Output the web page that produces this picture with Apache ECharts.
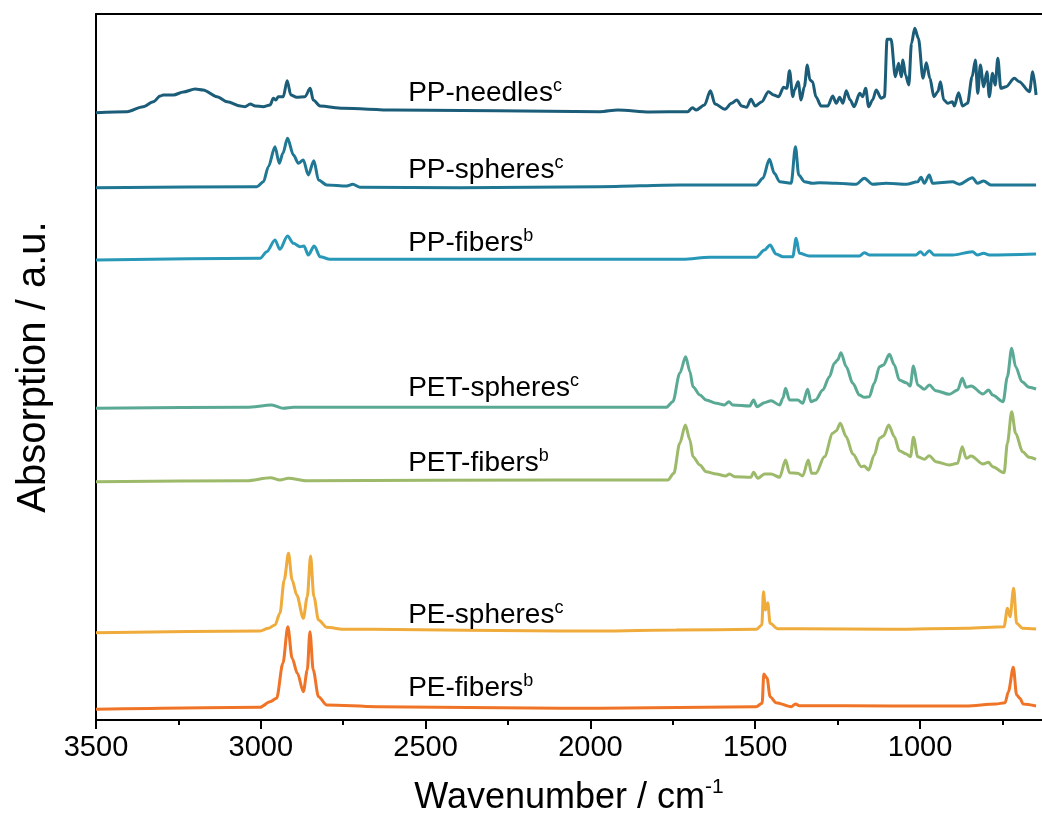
<!DOCTYPE html>
<html>
<head>
<meta charset="utf-8">
<script src="https://cdn.jsdelivr.net/npm/echarts@6/dist/echarts.min.js"></script>
<style>html,body{margin:0;padding:0;background:#fff;}#chart{width:1042px;height:833px;}</style>
</head>
<body>
<div id="chart"></div>
<script>
// Series names and label text
const seriesNames = ['PP-needles', 'PP-spheres', 'PP-fibers', 'PET-spheres', 'PET-fibers', 'PE-spheres', 'PE-fibers'];
const seriesSup = ['c', 'c', 'b', 'c', 'b', 'c', 'b'];
const seriesColors = ['#1b5d78', '#1f7794', '#2898b8', '#5aa994', '#9db96a', '#efab3b', '#f07427'];
// label anchor heights (a.u., offset scale)
const labelWn = 2553;
const labelLevels = [627, 550, 477, 332, 257, 105, 32];

const majorTicks = [3500, 3000, 2500, 2000, 1500, 1000];
const minorTicks = [3250, 2750, 2250, 1750, 1250, 750];

// [wavenumber cm-1, offset absorption a.u.]
const ppNeedles = [[3500,607.3],[3406,608.3],[3357,613.3],[3326,618.3],[3305,624],[3296,625],[3265,625],[3235,628],[3199,631],[3175,630],[3133,623.3],[3102,618.3],[3062,614],[3048,613.3],[3032,616],[3017,614],[2993,613.3],[2972,615],[2962,621.7],[2954,620],[2947,623.3],[2932,623.3],[2920,639.3],[2909,625],[2891,622.7],[2866,623.3],[2850,631.7],[2841,620],[2820,614],[2750,611.7],[2598,610],[1971,608.3],[1917,610],[1820,608],[1705,608.3],[1691,612.3],[1679,610],[1654,615],[1636,629.3],[1622,616],[1592,610.7],[1572,616.7],[1556,620],[1541,614],[1526,612.7],[1513,620.7],[1500,614],[1480,618.3],[1460,628.3],[1444,625],[1429,623.3],[1414,632.7],[1404,631.7],[1396,649.3],[1386,623.3],[1381,630],[1370,638.3],[1361,620],[1351,633.3],[1342,655],[1334,640],[1326,638.3],[1316,623.3],[1300,614],[1280,614],[1265,624],[1254,616.7],[1244,622.7],[1234,616.7],[1224,629.3],[1212,620],[1200,613.3],[1183,626.7],[1174,623.3],[1165,631.7],[1156,613.3],[1144,620],[1133,630],[1118,621.7],[1108,623.3],[1100,680.7],[1088,680.7],[1075,643.3],[1065,656.7],[1057,643.3],[1052,660],[1044,645],[1034,635],[1026,676.7],[1016,691.7],[1005,681.7],[991,641.7],[981,657.3],[970,641.7],[958,623.3],[946,628.3],[938,638.3],[928,620],[916,616.7],[902,618.3],[896,614],[883,627.3],[871,614],[856,616.7],[842,643.3],[832,660],[825,626.7],[817,655],[807,633.3],[797,648.3],[790,623.3],[780,646.7],[772,635],[764,661.7],[755,631.7],[739,633.3],[714,641.7],[699,638.3],[668,628.3],[658,648.3],[648,625]];

const ppSpheres = [[3500,532.3],[3012,533.3],[2992,538.3],[2977,553.3],[2957,573.3],[2944,556.7],[2933,566.7],[2919,581.7],[2901,565],[2886,556.7],[2871,560],[2856,545],[2839,559.3],[2825,540],[2800,535],[2739,534],[2721,535.7],[2699,532.7],[2396,532.3],[1971,533.3],[1729,535],[1497,535],[1477,541.7],[1457,560.7],[1442,546.7],[1426,538.3],[1391,536.7],[1378,573.3],[1368,545],[1351,538.3],[1326,536.7],[1305,537.3],[1254,536.7],[1194,535.7],[1169,541.7],[1144,535.7],[1103,536.7],[1042,535.7],[1007,538.3],[997,542.7],[987,536.7],[972,545],[962,536.7],[901,538.3],[881,535.7],[841,542.3],[826,536.7],[807,539],[785,535],[648,535]];

const ppFibers = [[3500,460],[3002,461.7],[2982,468.3],[2957,480],[2942,470.7],[2919,484],[2901,476.7],[2881,473.3],[2869,474],[2856,465],[2838,474],[2820,463.3],[2790,460.7],[2396,460.7],[1971,460.7],[1719,460.7],[1638,462.7],[1497,462.7],[1472,470],[1455,475],[1437,466],[1416,463.3],[1386,463.3],[1376,481.7],[1366,466.7],[1336,464],[1184,464],[1169,467.3],[1154,465],[1012,465],[999,468.3],[987,465],[972,469.3],[957,465],[901,465],[841,468.3],[826,465],[807,466.7],[790,465],[648,466]];

const petSpheres = [[3500,311.7],[3043,312.7],[2967,315],[2932,311.7],[2901,312.7],[2093,312.7],[1971,312.7],[1770,312.7],[1750,318.3],[1729,346.7],[1711,363.3],[1698,348.3],[1689,333.3],[1668,325],[1649,320],[1618,316.7],[1593,315],[1580,318.3],[1568,315],[1517,314],[1505,320],[1495,313.3],[1472,317.3],[1452,319.3],[1426,315],[1416,321.7],[1408,331.7],[1396,320],[1371,320],[1356,316.7],[1341,330.7],[1331,318.3],[1317,320],[1295,330],[1275,343.3],[1260,356.7],[1250,360],[1240,367.3],[1224,353.3],[1204,336.7],[1184,325],[1169,322.7],[1154,323.3],[1139,336.7],[1123,353.3],[1111,355],[1093,365.7],[1078,355],[1063,340],[1042,337.3],[1030,334],[1020,354],[1007,335],[987,330.7],[972,335],[952,329.3],[911,325.7],[886,330],[872,341.7],[860,332.7],[845,334],[809,326],[792,330],[780,325],[748,318.3],[735,343.3],[722,371.7],[710,353.3],[691,338.3],[669,332.7],[648,331]];

const petFibers = [[3500,238.3],[3043,239.3],[2970,242.3],[2942,240],[2916,241.7],[2861,239.3],[2093,240],[1971,240],[1765,240],[1747,246.7],[1729,276.7],[1712,295],[1698,280],[1689,263.3],[1668,255],[1649,248.3],[1618,246],[1590,244],[1578,246],[1562,243.3],[1513,242.7],[1505,247.7],[1492,241.7],[1472,246],[1452,246],[1426,242.7],[1408,260],[1396,247.3],[1371,246.7],[1356,244],[1339,260],[1329,246.7],[1316,246.7],[1290,263.3],[1265,286.7],[1254,289.3],[1242,296.7],[1224,283.3],[1204,266],[1178,253.3],[1169,254],[1156,250],[1139,265],[1123,281.7],[1111,284],[1095,295],[1078,283.3],[1063,269.3],[1042,266],[1029,263.3],[1020,282.7],[1007,263.3],[987,260.7],[972,264.3],[952,258.3],[911,255],[886,256.7],[872,273.3],[860,261.7],[845,264],[809,256],[792,257.7],[780,253.3],[745,247.3],[735,276.7],[722,308.3],[710,286.7],[689,268.3],[669,262.7],[648,260.7]];

const peSpheres = [[3500,87.3],[3002,89],[2977,91.7],[2957,95],[2942,106.7],[2929,140],[2916,166.7],[2905,140],[2891,125],[2871,101.7],[2859,123.3],[2849,164],[2839,123.3],[2825,100],[2800,92.7],[2750,90.7],[2659,90.7],[2093,89],[1971,89],[1740,90],[1497,90.7],[1480,95],[1475,128.3],[1469,110],[1462,117.3],[1455,96.7],[1432,91.3],[1366,91.3],[1083,90.7],[860,91.7],[745,93.3],[735,111.7],[727,103.3],[716,131.7],[707,96.7],[689,91.7],[648,91]];

const peFibers = [[3500,10.7],[3002,12.7],[2972,18.3],[2952,21.7],[2933,56.7],[2918,93.3],[2905,61.7],[2889,46.7],[2871,28.3],[2859,50],[2851,88.3],[2841,50],[2825,23.3],[2800,15],[2648,13.3],[2093,11.7],[1971,11.7],[1497,13.3],[1479,16.7],[1474,46],[1464,41.7],[1455,23.3],[1437,17.3],[1391,13.3],[1378,16],[1366,14.3],[1083,14],[860,14],[770,16],[742,17.3],[732,28.3],[717,52.7],[707,25],[697,21.7],[687,16],[648,14]];

const allData = [ppNeedles, ppSpheres, ppFibers, petSpheres, petFibers, peSpheres, peFibers];

const FONT = 'Liberation Sans, Arial, sans-serif';
const X_MIN = 630, X_MAX = 3500;
const axisLineStyle = { color: '#000', width: 2 };

const chart = echarts.init(document.getElementById('chart'), null, { renderer: 'canvas' });

const series = allData.map((d, i) => ({
  name: seriesNames[i],
  type: 'line',
  xAxisIndex: 0,
  yAxisIndex: 0,
  data: d,
  showSymbol: false,
  smooth: 0.3,
  smoothMonotone: 'x',
  lineStyle: { color: seriesColors[i], width: 3 },
  itemStyle: { color: seriesColors[i] },
  z: 3,
  markPoint: {
    symbol: 'circle',
    symbolSize: 0,
    silent: true,
    data: [{
      coord: [labelWn, labelLevels[i]],
      label: {
        show: true,
        position: 'right',
        distance: 0,
        formatter: '{m|' + seriesNames[i] + '}{s|' + seriesSup[i] + '}',
        rich: {
          m: { fontSize: 28, fontFamily: FONT, color: '#000', lineHeight: 32 },
          s: { fontSize: 18, fontFamily: FONT, color: '#000', verticalAlign: 'top', lineHeight: 18 }
        }
      }
    }]
  }
}));

chart.setOption({
  animation: false,
  backgroundColor: '#fff',
  grid: { left: 96, right: 0, top: 14, bottom: 113, containLabel: false },
  xAxis: [
    {
      type: 'value', min: X_MIN, max: X_MAX, inverse: true, position: 'bottom',
      axisLine: { show: true, lineStyle: axisLineStyle },
      axisTick: { show: true, customValues: majorTicks, length: 9, inside: false, lineStyle: { color: '#000', width: 2 } },
      axisLabel: { show: true, customValues: majorTicks, formatter: v => String(v), fontSize: 29, fontFamily: FONT, color: '#000', margin: 13 },
      splitLine: { show: false },
      name: '{m|Wavenumber / cm}{s|-1}',
      nameLocation: 'middle',
      nameGap: 57,
      nameTextStyle: {
        rich: {
          m: { fontSize: 36, fontFamily: FONT, color: '#000', lineHeight: 42 },
          s: { fontSize: 21, fontFamily: FONT, color: '#000', verticalAlign: 'top', lineHeight: 21 }
        }
      }
    },
    {
      type: 'value', min: X_MIN, max: X_MAX, inverse: true, position: 'bottom',
      axisLine: { show: false },
      axisTick: { show: true, customValues: minorTicks, length: 5, lineStyle: { color: '#000', width: 2 } },
      axisLabel: { show: false },
      splitLine: { show: false }
    },
    {
      type: 'value', min: X_MIN, max: X_MAX, inverse: true, position: 'top',
      axisLine: { show: true, lineStyle: axisLineStyle },
      axisTick: { show: false },
      axisLabel: { show: false },
      splitLine: { show: false }
    }
  ],
  yAxis: [{
    type: 'value', min: 0, max: 706,
    axisLine: { show: true, lineStyle: axisLineStyle },
    axisTick: { show: false },
    axisLabel: { show: false },
    splitLine: { show: false },
    name: 'Absorption / a.u.',
    nameLocation: 'middle',
    nameGap: 42,
    nameTextStyle: { fontSize: 40, fontFamily: FONT, color: '#000' }
  }],
  series: series
});
</script>
</body>
</html>
